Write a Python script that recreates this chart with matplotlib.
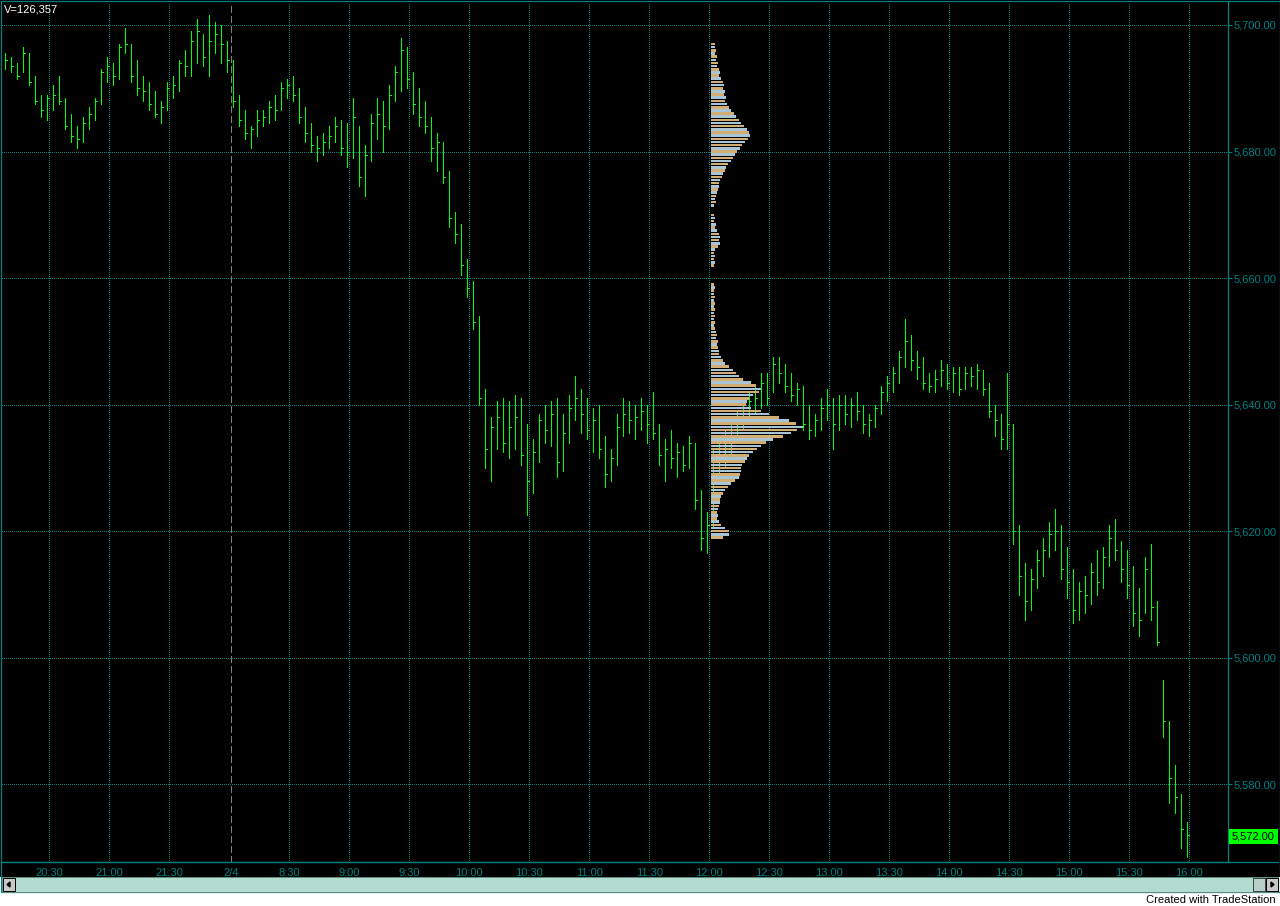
import matplotlib
matplotlib.use('Agg')
import matplotlib.pyplot as plt
from matplotlib.patches import Rectangle, Polygon
import numpy as np

plt.rcParams['font.family'] = ['Liberation Sans', 'DejaVu Sans']

# 3-minute bars, positions in minutes of bar time counted from 20:30
first_bar = -22
bar_step = 3
highs = [5695.5, 5695, 5694, 5696.5, 5695.5, 5692, 5689, 5689, 5690.5, 5692,
         5688.5, 5686, 5684, 5685.5, 5687, 5688.5, 5693, 5695, 5694, 5697,
         5699.5, 5697, 5694.5, 5692, 5691, 5689.5, 5688, 5691, 5692, 5694.5,
         5696, 5699, 5701, 5698.5, 5701.5, 5700.5, 5700, 5697.5, 5694.5, 5689,
         5686.5, 5684, 5686.5, 5686.5, 5688, 5689, 5691, 5691.5, 5692, 5690,
         5687, 5684.5, 5682.5, 5683, 5684, 5685.5, 5685, 5684.5, 5688.5, 5684,
         5681, 5686, 5688.5, 5688, 5690.5, 5693.5, 5698, 5696.5, 5692.5, 5690,
         5688, 5685.5, 5683, 5681.5, 5677, 5670.5, 5668.5, 5663, 5659.5, 5654,
         5642.5, 5638, 5640.5, 5641, 5640.5, 5641.5, 5641, 5637, 5634.5, 5638.5,
         5640, 5640.5, 5641, 5638.5, 5641.5, 5644.5, 5642.5, 5641, 5639.5, 5640,
         5635, 5633, 5638.5, 5641, 5640.5, 5640, 5641, 5640, 5642, 5637,
         5634.5, 5636, 5634, 5633.5, 5635, 5634, 5626.5, 5623, 5633, 5634,
         5636, 5638, 5639, 5640, 5642, 5643, 5645, 5645, 5647.5, 5647.5,
         5646.5, 5645, 5643.5, 5643, 5640, 5638.5, 5641, 5642.5, 5641, 5641.5,
         5641.5, 5641, 5642, 5640, 5638.5, 5640, 5643, 5644.5, 5646, 5648.5,
         5653.5, 5651, 5648.5, 5647.5, 5645, 5645.5, 5647, 5646.5, 5646, 5646,
         5646, 5646, 5646.5, 5645.5, 5643.5, 5640, 5638.5, 5645, 5637, 5621,
         5615, 5614, 5617, 5619, 5621.5, 5623.5, 5621, 5617.5, 5614, 5612,
         5613, 5615, 5617, 5617.5, 5621, 5622, 5618.5, 5617, 5614.5, 5611,
         5616, 5618, 5609, 5596.5, 5590, 5583, 5578.5, 5574]
lows = [5693, 5692.5, 5691.5, 5692.5, 5690.5, 5687.5, 5685.5, 5685, 5686.5, 5687.5,
        5683.5, 5681.5, 5680.5, 5681.5, 5683.5, 5685, 5687.5, 5691, 5690.5, 5691.5,
        5695.5, 5691, 5689, 5688, 5686.5, 5685.5, 5684.5, 5686.5, 5688.5, 5689.5,
        5692, 5692, 5694, 5693.5, 5692, 5695.5, 5694, 5692.5, 5687, 5684,
        5682, 5680.5, 5682.5, 5684, 5684.5, 5685, 5686.5, 5688.5, 5688, 5684.5,
        5681.5, 5680, 5678.5, 5679.5, 5680.5, 5681.5, 5679.5, 5677.5, 5679, 5674.5,
        5673, 5678.5, 5682, 5680, 5683.5, 5688, 5689.5, 5690, 5686, 5684,
        5683, 5678.5, 5677, 5675, 5668, 5665.5, 5660.5, 5657, 5652, 5640,
        5630, 5628, 5633, 5632.5, 5631.5, 5633, 5630.5, 5622.5, 5626, 5631,
        5634, 5633.5, 5628.5, 5629.5, 5634, 5637.5, 5635.5, 5634.5, 5632.5, 5631.5,
        5627, 5628, 5630.5, 5635, 5635.5, 5634.5, 5636, 5634, 5634.5, 5630.5,
        5628, 5630, 5628.5, 5629.5, 5630, 5623.5, 5617, 5616.5, 5620.5, 5628,
        5630, 5632, 5634, 5636, 5637, 5638.5, 5639.5, 5640, 5642, 5643.5,
        5642, 5640.5, 5640, 5636, 5634.5, 5635, 5636, 5637.5, 5633, 5636,
        5637, 5636.5, 5637.5, 5635.5, 5635, 5636.5, 5638.5, 5640.5, 5642, 5643.5,
        5646, 5645.5, 5644, 5642.5, 5642, 5642, 5643, 5642.5, 5642, 5641.5,
        5642.5, 5643, 5642.5, 5641.5, 5638, 5635, 5633, 5633, 5618, 5610,
        5606, 5607.5, 5611, 5613, 5616, 5617, 5612.5, 5609.5, 5605.5, 5606,
        5607, 5608.5, 5610, 5611, 5614.5, 5615.5, 5612, 5609.5, 5605, 5603.5,
        5607, 5606, 5602, 5587.5, 5577, 5575.5, 5570, 5568.5]
closes = [5694.5, 5693.5, 5692, 5695.5, 5691, 5688, 5686.5, 5688.5, 5689, 5688,
          5684, 5682.5, 5682, 5684.5, 5686, 5688, 5692.5, 5693.5, 5692, 5696.5,
          5697, 5692, 5690, 5689.5, 5687.5, 5686, 5687, 5690, 5690.5, 5694,
          5693.5, 5697.5, 5699, 5695, 5697.5, 5698.5, 5697, 5694.5, 5688, 5685,
          5683, 5683.5, 5685, 5685.5, 5687, 5686.5, 5690, 5690.5, 5689, 5685.5,
          5683, 5681, 5680.5, 5681.5, 5682.5, 5684, 5680.5, 5680, 5685.5, 5676,
          5679.5, 5684.5, 5686, 5684, 5689, 5692.5, 5696, 5691.5, 5687.5, 5685.5,
          5684, 5680.5, 5681.5, 5676, 5669.5, 5667, 5662, 5658.5, 5653, 5641,
          5633, 5636.5, 5638, 5634, 5636.5, 5638, 5632, 5628, 5632.5, 5637.5,
          5636, 5638.5, 5631, 5635.5, 5639.5, 5641, 5638.5, 5636, 5637.5, 5633,
          5629, 5631.5, 5636.5, 5638.5, 5637.5, 5638, 5639, 5637, 5635.5, 5632,
          5633, 5631.5, 5632.5, 5630.5, 5634, 5625, 5619, 5621, 5631, 5632,
          5634.5, 5636.5, 5637, 5639, 5640.5, 5641, 5643.5, 5641, 5646.5, 5645,
          5643, 5641.5, 5642.5, 5637, 5636, 5637.5, 5639.5, 5640, 5637, 5640,
          5638.5, 5640, 5639, 5637, 5637.5, 5639.5, 5642, 5643.5, 5645, 5647.5,
          5650, 5647, 5646, 5643.5, 5643, 5644, 5645.5, 5643.5, 5645, 5642.5,
          5645, 5644.5, 5645.5, 5642.5, 5639, 5637.5, 5634.5, 5637, 5620, 5613,
          5609, 5612.5, 5615.5, 5617, 5619.5, 5620, 5614, 5612, 5607.5, 5610.5,
          5610, 5613.5, 5612, 5616, 5619, 5617, 5614, 5611.5, 5607, 5606,
          5614, 5608, 5602.5, 5590, 5581, 5578, 5573, 5572]

time_labels = ['20:30', '21:00', '21:30', '2/4', '8:30', '9:00', '9:30', '10:00', '10:30', '11:00',
               '11:30', '12:00', '12:30', '13:00', '13:30', '14:00', '14:30', '15:00', '15:30', '16:00']
time_pos = [0, 30, 60, 91, 120, 150, 180, 210, 240, 270,
            300, 330, 360, 390, 420, 450, 480, 510, 540, 570]
price_ticks = [5580, 5600, 5620, 5640, 5660, 5680, 5700]
last_price = 5572.00
volume_text = 'V=126,357'

# volume profile started at 12:00, one value per half point from the top down
profile_start = 331
profile_top = 5697.0
profile_step = 0.5
profile_vol = [4, 4, 5, 4, 6, 5, 7, 6, 8, 9, 8, 10, 12, 13, 12, 14, 13, 15, 14, 16,
               18, 20, 23, 25, 28, 30, 33, 36, 38, 39, 37, 34, 31, 29, 26, 24, 22, 20, 17, 15,
               14, 12, 11, 9, 8, 8, 7, 6, 5, 4, 5, 3, 0, 0, 3, 4, 3, 5, 4, 6,
               8, 9, 8, 9, 7, 4, 3, 4, 3, 4, 3, 0, 0, 0, 0, 0, 3, 4, 3, 3,
               4, 3, 4, 3, 4, 3, 4, 3, 4, 3, 4, 5, 6, 5, 7, 6, 7, 8, 8, 10,
               12, 14, 18, 22, 25, 28, 32, 40, 45, 50, 48, 42, 38, 36, 35, 40, 50, 58, 68, 78,
               85, 92, 86, 80, 72, 62, 55, 50, 46, 42, 38, 36, 34, 31, 30, 30, 29, 28, 24, 20,
               17, 14, 12, 10, 9, 9, 8, 7, 6, 7, 6, 8, 10, 14, 18, 18, 12]

W, H = 1280, 906
teal = '#008080'
green = '#00ff00'

fig = plt.figure(figsize=(W / 100, H / 100), dpi=100, facecolor='white')


def px_rect(x0, y0, x1, y1, **kw):
    return Rectangle((x0 / W, 1 - y1 / H), (x1 - x0) / W, (y1 - y0) / H,
                     transform=fig.transFigure, **kw)


# black chart window (behind the axes)
fig.patches.append(px_rect(0, 0, W, 877, facecolor='black', edgecolor='none', zorder=-1))

ax = fig.add_axes([2 / W, 1 - 862 / H, 1226 / W, 860 / H])
ax.set_zorder(1)
ax.set_facecolor('black')
ax.set_xlim(-23.65, 589.35)
ax.set_ylim(5567.73, 5703.63)

for p in price_ticks:
    ax.axhline(p, color=teal, lw=0.72, ls=(0, (1, 2)), zorder=1, antialiased=False)
for pos, lab in zip(time_pos, time_labels):
    if lab == '2/4':
        ax.axvline(pos, color='#808080', lw=0.72, ls=(0, (6, 3)), zorder=1, antialiased=False)
    else:
        ax.axvline(pos, color=teal, lw=0.72, ls=(0, (1, 2)), zorder=1, antialiased=False)

n = first_bar + bar_step * np.arange(len(highs))
ax.vlines(n, lows, highs, color=green, lw=0.7, zorder=3, antialiased=False)
ax.hlines(closes, n, n + 0.9, color=green, lw=0.7, zorder=3, antialiased=False)

levels = profile_top - profile_step * np.arange(len(profile_vol))
pcolors = ['#d2ae72' if i % 2 == 0 else '#a9c4d4' for i in range(len(profile_vol))]
vol = np.array(profile_vol, dtype=float)
keep = vol > 0
ax.barh(levels[keep], vol[keep] * 0.5, left=profile_start, height=0.4,
        color=np.array(pcolors)[keep], zorder=4)

ax.yaxis.tick_right()
ax.set_yticks(price_ticks, ['{:,.2f}'.format(p) for p in price_ticks])
ax.tick_params(axis='y', colors=teal, length=3, width=0.8, pad=1, labelsize=8)
ax.set_xticks(time_pos, time_labels)
ax.tick_params(axis='x', length=0, pad=4, labelsize=8, labelcolor=teal)
for s in ['left', 'top']:
    ax.spines[s].set_visible(False)
for s in ['right', 'bottom']:
    ax.spines[s].set_color(teal)
    ax.spines[s].set_linewidth(0.9)

# frame, bottom line, last price box
fig.patches.append(px_rect(0.5, 0.5, 1279.5, 892, facecolor='none', edgecolor=teal, lw=0.9, zorder=5))
fig.lines.append(plt.Line2D([2 / W, 1278 / W], [1 - 862 / H, 1 - 862 / H],
                            transform=fig.transFigure, color=teal, lw=0.9))
fig.patches.append(px_rect(1229, 829, 1278, 844, facecolor=green, edgecolor='none', zorder=5))
fig.text(1253.5 / W, 1 - 836.5 / H, '{:,.2f}'.format(last_price), color='black', fontsize=8,
         ha='center', va='center', zorder=6)
fig.text(4 / W, 1 - 9 / H, volume_text, color='white', fontsize=8, ha='left', va='center')

# scroll bar
fig.patches.append(px_rect(2, 877, 1278, 892, facecolor='#b2dccf', edgecolor='#5a8a80', lw=0.7, zorder=5))
fig.patches.append(px_rect(3, 878, 15, 891, facecolor='#c8c8c8', edgecolor='black', lw=0.7, zorder=6))
fig.patches.append(px_rect(1253, 878, 1265, 891, facecolor='#b8d0c8', edgecolor='#404040', lw=0.7, zorder=6))
fig.patches.append(px_rect(1266, 878, 1278, 891, facecolor='#c8c8c8', edgecolor='black', lw=0.7, zorder=6))
fig.patches.append(Polygon([(7 / W, 1 - 884.5 / H), (10 / W, 1 - 882 / H), (10 / W, 1 - 887 / H)],
                           closed=True, transform=fig.transFigure, color='black', zorder=7))
fig.patches.append(Polygon([(1274 / W, 1 - 884.5 / H), (1271 / W, 1 - 882 / H), (1271 / W, 1 - 887 / H)],
                           closed=True, transform=fig.transFigure, color='black', zorder=7))
fig.text(1276 / W, 1 - 900 / H, 'Created with TradeStation', color='black', fontsize=8,
         ha='right', va='center')

fig.savefig('out.png', dpi=100, facecolor='white')
